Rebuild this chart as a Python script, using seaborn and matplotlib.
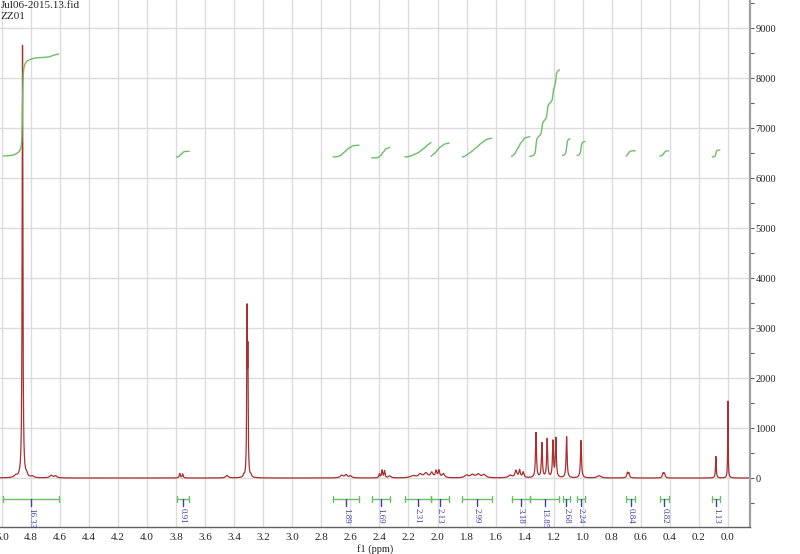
import numpy as np
import pandas as pd
import seaborn as sns
import matplotlib.pyplot as plt
from matplotlib.ticker import MultipleLocator

# peak list: position (ppm), height, half width (ppm)
peak_ppm = [4.858, 4.905, 4.83, 4.79, 4.66, 4.63,
            3.775, 3.755, 3.45, 3.312, 3.306, 3.335, 3.285,
            2.66, 2.63, 2.60, 2.40, 2.382, 2.365, 2.33,
            2.17, 2.12, 2.08, 2.04, 2.01, 1.99, 1.96,
            1.80, 1.76, 1.72, 1.68,
            1.50, 1.46, 1.435, 1.41,
            1.322, 1.281, 1.245, 1.205, 1.185, 1.111, 1.012,
            0.888, 0.692, 0.682, 0.447, 0.437, 0.083, 0.000]
peak_height = [8650, 40, 50, 30, 50, 40,
               90, 80, 50, 3150, 2250, 40, 40,
               50, 60, 40, 80, 150, 140, 40,
               40, 70, 90, 100, 130, 140, 80,
               50, 60, 70, 60,
               50, 140, 150, 110,
               900, 690, 770, 720, 780, 820, 750,
               45, 100, 90, 90, 85, 430, 1540]
peak_width = [0.003, 0.01, 0.006, 0.01, 0.012, 0.01,
              0.004, 0.004, 0.01, 0.0025, 0.0025, 0.004, 0.004,
              0.012, 0.01, 0.01, 0.004, 0.004, 0.004, 0.01,
              0.02, 0.015, 0.015, 0.01, 0.006, 0.006, 0.01,
              0.015, 0.015, 0.015, 0.015,
              0.015, 0.008, 0.006, 0.006,
              0.004, 0.004, 0.004, 0.004, 0.004, 0.004, 0.004,
              0.015, 0.005, 0.005, 0.005, 0.005, 0.003, 0.002]

# integration regions
int_start = [4.99, 3.797, 2.72, 2.453, 2.225, 2.045, 1.83, 1.49, 1.364, 1.139, 1.038, 0.702, 0.468, 0.108]
int_end = [4.61, 3.71, 2.54, 2.33, 2.045, 1.92, 1.627, 1.364, 1.16, 1.088, 0.985, 0.638, 0.409, 0.055]
int_value = [16.33, 0.91, 1.89, 1.69, 2.31, 2.13, 2.99, 3.18, 13.85, 2.68, 2.24, 0.84, 0.82, 1.13]
int_base = [6440, 6420, 6420, 6400, 6420, 6430, 6420, 6430, 6430, 6450, 6450, 6440, 6440, 6420]

red = '#a8302f'
green = '#6cbf6a'
blue = '#3a44a8'

# build the spectrum from the peak list
ppm = np.linspace(5.05, -0.16, 26000)
intensity = np.zeros_like(ppm)
for c, h, w in zip(peak_ppm, peak_height, peak_width):
    intensity += h / (1 + ((ppm - c) / w) ** 2)
spec = pd.DataFrame({'ppm': ppm, 'intensity': intensity})

sns.set_style("white")
plt.rcParams['font.family'] = ['Liberation Serif', 'DejaVu Serif']

fig = plt.figure(figsize=(8, 5.54), dpi=100)
ax = fig.add_axes([0, 0.0487, 0.9375, 0.9513])

sns.lineplot(data=spec, x='ppm', y='intensity', ax=ax, color=red, lw=0.9,
             sort=False, estimator=None)

# integral curves and bars
for s, e, v, b in zip(int_start, int_end, int_value, int_base):
    seg = spec[(spec.ppm <= s) & (spec.ppm >= e)]
    cum = seg.intensity.cumsum()
    curve = b + cum / cum.iloc[-1] * v * 125
    sns.lineplot(x=seg.ppm, y=curve, ax=ax, color=green, lw=1.0,
                 sort=False, estimator=None)
    ax.plot([s, e], [-426, -426], color=green, lw=1.0)
    ax.plot([s, s], [-486, -366], color=green, lw=1.0)
    ax.plot([e, e], [-486, -366], color=green, lw=1.0)
    mid = (s + e) / 2
    ax.plot([mid, mid], [-426, -560], color=blue, lw=1.0)
    ax.text(mid, -590, f'{v:.2f}', rotation=-90, ha='center', va='top',
            fontsize=6.5, color=blue)

ax.set_xlim(5.013, -0.152)
ax.set_ylim(-980, 9560)

ax.xaxis.set_major_locator(MultipleLocator(0.2))
ax.xaxis.set_minor_locator(MultipleLocator(0.1))
ax.xaxis.set_major_formatter(lambda x, p: f'{x:.1f}')
ax.yaxis.set_major_locator(MultipleLocator(1000))
ax.yaxis.set_minor_locator(MultipleLocator(500))
ax.yaxis.tick_right()

ax.grid(True, which='major', color='#dcdcdc', lw=1.0)
ax.set_axisbelow(True)

for side in ['top', 'left']:
    ax.spines[side].set_visible(False)
ax.spines['right'].set_color('#a0a0a0')
ax.spines['right'].set_linewidth(1.6)
ax.spines['bottom'].set_color('#606060')
ax.spines['bottom'].set_linewidth(1.0)

ax.tick_params(axis='x', which='both', direction='out', length=3, width=0.8,
               color='#606060', labelsize=8, pad=1)
ax.tick_params(axis='y', which='both', direction='out', length=3, width=0.8,
               color='#606060', labelsize=7.5, pad=1, right=True, left=False)

ax.set_xlabel('f1 (ppm)', fontsize=7.5)
ax.xaxis.set_label_coords(0.5, -0.032)
ax.set_ylabel('')

fig.text(0.001, 0.998, 'Jul06-2015.13.fid\nZZ01', ha='left', va='top',
         fontsize=8, linespacing=1.3)

fig.savefig('out.png', dpi=100)
